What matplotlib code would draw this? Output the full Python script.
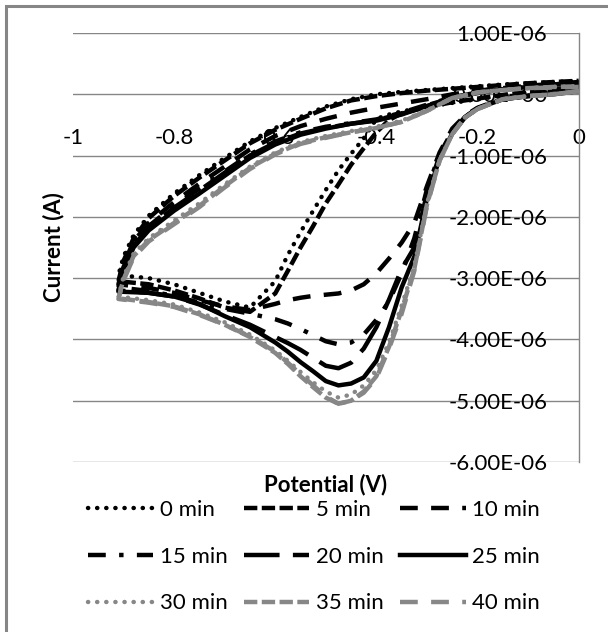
import numpy as np
import matplotlib
matplotlib.use('Agg')
import matplotlib.pyplot as plt
from matplotlib.patches import Rectangle
from matplotlib.ticker import FuncFormatter

plt.rcParams['font.family'] = ['Lato', 'DejaVu Sans']

# ---------------- data (potential in V, current in microamps) ----------------
potential_fwd = [0.0, -0.05, -0.10, -0.15, -0.20, -0.225, -0.25, -0.275, -0.30, -0.325,
                 -0.35, -0.375, -0.40, -0.425, -0.45, -0.475, -0.50, -0.525, -0.55, -0.575,
                 -0.60, -0.65, -0.70, -0.75, -0.80, -0.85, -0.91]
potential_rev = [-0.90, -0.88, -0.85, -0.80, -0.75, -0.70, -0.65, -0.60, -0.55, -0.50,
                 -0.45, -0.40, -0.35, -0.30, -0.25, -0.20, -0.15, -0.10, -0.05, 0.0]

labels = ['0 min', '5 min', '10 min', '15 min', '20 min', '25 min', '30 min', '35 min', '40 min']

i_fwd_0 = [0.12, 0.08, 0.03, -0.02, -0.08, -0.11, -0.14, -0.17, -0.20, -0.24, -0.28, -0.33, -0.40,
           -0.72, -0.97, -1.24, -1.56, -1.90, -2.25, -2.62, -3.05, -3.48, -3.38, -3.24, -3.10, -3.00, -2.95]
i_fwd_5 = [0.12, 0.08, 0.04, -0.01, -0.07, -0.10, -0.13, -0.17, -0.21, -0.26, -0.31, -0.42, -0.62,
           -0.88, -1.15, -1.47, -1.78, -2.15, -2.50, -2.88, -3.25, -3.55, -3.48, -3.33, -3.20, -3.10, -3.05]
i_fwd_10 = [0.08, 0.04, 0.00, -0.07, -0.22, -0.35, -0.56, -0.95, -1.50, -2.10, -2.42, -2.68, -2.92,
            -3.10, -3.20, -3.25, -3.27, -3.29, -3.32, -3.36, -3.42, -3.52, -3.46, -3.36, -3.24, -3.16, -3.10]
i_fwd_15 = [0.06, 0.02, -0.02, -0.08, -0.23, -0.37, -0.60, -0.98, -1.55, -2.35, -2.92, -3.38, -3.68,
            -3.92, -4.05, -4.08, -4.03, -3.93, -3.83, -3.74, -3.67, -3.58, -3.50, -3.40, -3.29, -3.21, -3.15]
i_fwd_20 = [0.05, 0.01, -0.03, -0.08, -0.23, -0.37, -0.62, -1.00, -1.62, -2.50, -2.85, -3.35, -3.80,
            -4.15, -4.38, -4.47, -4.43, -4.30, -4.17, -4.06, -3.96, -3.76, -3.60, -3.43, -3.30, -3.24, -3.20]
i_fwd_25 = [0.05, 0.00, -0.03, -0.08, -0.23, -0.38, -0.64, -1.04, -1.70, -2.65, -3.15, -3.80, -4.35,
            -4.62, -4.72, -4.75, -4.68, -4.52, -4.37, -4.20, -4.05, -3.80, -3.62, -3.42, -3.30, -3.24, -3.22]
i_fwd_30 = [0.05, 0.00, -0.03, -0.08, -0.24, -0.38, -0.65, -1.07, -1.78, -2.80, -3.45, -4.05, -4.50,
            -4.75, -4.90, -4.95, -4.85, -4.70, -4.53, -4.35, -4.18, -3.92, -3.72, -3.56, -3.43, -3.36, -3.30]
i_fwd_35 = [0.05, 0.00, -0.03, -0.08, -0.24, -0.38, -0.65, -1.08, -1.80, -2.85, -3.52, -4.12, -4.60,
            -4.85, -5.00, -5.05, -4.95, -4.78, -4.60, -4.40, -4.22, -3.96, -3.76, -3.59, -3.46, -3.39, -3.33]
i_fwd_40 = [0.05, 0.00, -0.03, -0.08, -0.24, -0.38, -0.65, -1.08, -1.82, -2.88, -3.58, -4.15, -4.63,
            -4.87, -5.00, -5.05, -4.93, -4.75, -4.57, -4.38, -4.20, -3.95, -3.76, -3.60, -3.47, -3.40, -3.34]

i_rev_0 = [-2.65, -2.30, -1.98, -1.62, -1.32, -1.04, -0.77, -0.55, -0.37, -0.20,
           -0.08, 0.00, 0.04, 0.07, 0.10, 0.13, 0.16, 0.18, 0.20, 0.22]
i_rev_5 = [-2.72, -2.35, -2.02, -1.66, -1.36, -1.08, -0.80, -0.58, -0.40, -0.23,
           -0.10, -0.03, 0.02, 0.06, 0.09, 0.12, 0.15, 0.18, 0.20, 0.22]
i_rev_10 = [-2.78, -2.40, -2.10, -1.76, -1.46, -1.18, -0.90, -0.68, -0.52, -0.40,
            -0.30, -0.22, -0.15, -0.08, 0.00, 0.06, 0.10, 0.14, 0.17, 0.20]
i_rev_15 = [-2.82, -2.45, -2.15, -1.82, -1.54, -1.26, -0.98, -0.77, -0.62, -0.53,
            -0.47, -0.41, -0.30, -0.17, -0.05, 0.03, 0.08, 0.12, 0.16, 0.19]
i_rev_20 = [-2.85, -2.47, -2.18, -1.85, -1.57, -1.28, -1.00, -0.79, -0.64, -0.55,
            -0.48, -0.42, -0.32, -0.18, -0.06, 0.03, 0.08, 0.12, 0.16, 0.19]
i_rev_25 = [-2.88, -2.50, -2.22, -1.90, -1.62, -1.33, -1.04, -0.82, -0.66, -0.56,
            -0.48, -0.43, -0.33, -0.19, -0.06, 0.02, 0.08, 0.12, 0.16, 0.19]
i_rev_30 = [-2.98, -2.60, -2.35, -2.06, -1.78, -1.47, -1.18, -0.95, -0.78, -0.68,
            -0.60, -0.53, -0.43, -0.26, -0.07, 0.03, 0.07, 0.10, 0.12, 0.13]
i_rev_35 = [-3.02, -2.64, -2.38, -2.10, -1.82, -1.50, -1.20, -0.97, -0.80, -0.70,
            -0.62, -0.55, -0.45, -0.27, -0.06, 0.03, 0.07, 0.10, 0.12, 0.13]
i_rev_40 = [-3.04, -2.66, -2.40, -2.12, -1.84, -1.52, -1.22, -0.98, -0.81, -0.71,
            -0.62, -0.55, -0.45, -0.27, -0.06, 0.03, 0.07, 0.10, 0.11, 0.12]

x_ticks = [-1, -0.8, -0.6, -0.4, -0.2, 0]
x_tick_labels = ['-1', '-0.8', '-0.6', '-0.4', '-0.2', '0']
y_ticks = [1e-6, 0, -1e-6, -2e-6, -3e-6, -4e-6, -5e-6, -6e-6]

fwd_list = [i_fwd_0, i_fwd_5, i_fwd_10, i_fwd_15, i_fwd_20, i_fwd_25, i_fwd_30, i_fwd_35, i_fwd_40]
rev_list = [i_rev_0, i_rev_5, i_rev_10, i_rev_15, i_rev_20, i_rev_25, i_rev_30, i_rev_35, i_rev_40]

# ---------------- styles ----------------
BLACK = '#000000'
GRAY = '#878787'
styles = [
    (BLACK, (0, (0.05, 2.0)), 'round'),
    (BLACK, (0, (3, 1)), 'butt'),
    (BLACK, (0, (4, 3)), 'butt'),
    (BLACK, (0, (4, 3, 1, 3)), 'butt'),
    (BLACK, (0, (8, 3)), 'butt'),
    (BLACK, '-', 'butt'),
    (GRAY, (0, (0.05, 2.0)), 'round'),
    (GRAY, (0, (3, 1)), 'butt'),
    (GRAY, (0, (4, 3)), 'butt'),
]
LW = 3.2

W, H = 608, 632
fig = plt.figure(figsize=(W / 100, H / 100), dpi=100)
ax_left, ax_right, ax_top, ax_bot = 72.9, 578.7, 33.0, 462.0
ax = fig.add_axes([ax_left / W, (H - ax_bot) / H, (ax_right - ax_left) / W, (ax_bot - ax_top) / H])

handles = []
for lab, fw, rv, (col, ls, cap) in zip(labels, fwd_list, rev_list, styles):
    x = np.array(potential_fwd + potential_rev)
    y = np.array(fw + rv) * 1e-6
    ln, = ax.plot(x, y, color=col, linestyle=ls, lw=LW, label=lab,
                  solid_joinstyle='round', dash_capstyle=cap)
    handles.append(ln)

ax.set_xlim(-1, 0)
ax.set_ylim(-6e-6, 1e-6)
ax.set_axisbelow(True)

ax.set_xticks(x_ticks)
ax.set_xticklabels(x_tick_labels)
ax.set_yticks(y_ticks)
ax.yaxis.set_major_formatter(FuncFormatter(lambda v, p: f"{v:.2E}"))

for s in ['top', 'right']:
    ax.spines[s].set_visible(False)
ax.spines['left'].set_position(('data', 0))
ax.spines['left'].set_color('#868686')
ax.spines['left'].set_linewidth(1.0)
ax.spines['bottom'].set_position(('data', 0))
ax.spines['bottom'].set_visible(False)

ax.tick_params(axis='x', length=0, pad=24.0, labelsize=16, colors='black')
ax.tick_params(axis='y', length=0, pad=22.5, labelsize=16, colors='black')

ax.yaxis.grid(True, color='#868686', lw=1.0)
ax.xaxis.grid(False)

ax.set_xlabel('Potential (V)', fontsize=16, fontweight='bold', va='center')
ax.xaxis.set_label_coords(0.5, (ax_bot - 485) / (ax_bot - ax_top))
ax.set_ylabel('Current (A)', fontsize=16, fontweight='bold', va='center')
ax.yaxis.set_label_coords((54 - ax_left) / (ax_right - ax_left), 0.5)

order = [0, 3, 6, 1, 4, 7, 2, 5, 8]
leg = ax.legend([handles[i] for i in order], [labels[i] for i in order], ncol=3,
                loc='upper left',
                bbox_to_anchor=((88 - ax_left) / (ax_right - ax_left), (ax_bot - 500) / (ax_bot - ax_top)),
                frameon=False, fontsize=16, handlelength=2.93, handletextpad=0.3,
                columnspacing=0.75, labelspacing=1.2, borderaxespad=0, borderpad=0)

fig.add_artist(Rectangle((6 / W, -0.1), 1.2, (H - 6) / H + 0.1, transform=fig.transFigure,
                         fill=False, edgecolor='#868686', lw=2.2))

fig.savefig('out.png', dpi=100)
